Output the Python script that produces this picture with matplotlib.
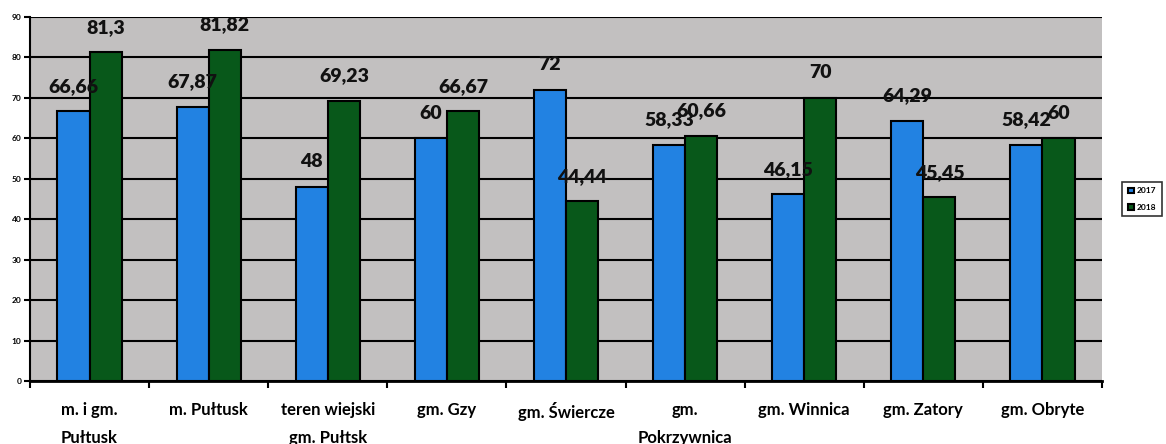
import matplotlib
matplotlib.use("Agg")
import matplotlib.pyplot as plt
import numpy as np

categories = ["m. i gm.\nPułtusk", "m. Pułtusk", "teren wiejski\ngm. Pułtsk", "gm. Gzy",
              "gm. Świercze", "gm.\nPokrzywnica", "gm. Winnica", "gm. Zatory", "gm. Obryte"]
values_2017 = [66.66, 67.87, 48, 60, 72, 58.33, 46.15, 64.29, 58.42]
values_2018 = [81.3, 81.82, 69.23, 66.67, 44.44, 60.66, 70, 45.45, 60]
series_names = ["2017", "2018"]
y_ticks = [0, 10, 20, 30, 40, 50, 60, 70, 80, 90]

plt.rcParams['font.family'] = ['Lato', 'DejaVu Sans']

fig = plt.figure(figsize=(11.66, 4.44), dpi=100)
ax = fig.add_axes([30/1166, 1-381/444, (1102-30)/1166, (381-17)/444])
ax.set_facecolor("#c2c0c0")

x = np.arange(len(categories))
w = 0.27
blue = "#2282e2"
green = "#08581a"
b1 = ax.bar(x - w/2, values_2017, w, color=blue, edgecolor="black", linewidth=1.5, zorder=3, label=series_names[0])
b2 = ax.bar(x + w/2, values_2018, w, color=green, edgecolor="black", linewidth=1.5, zorder=3, label=series_names[1])

def fmt(v):
    s = ("%.2f" % v).rstrip("0").rstrip(".")
    return s.replace(".", ",")

for bars, vals in ((b1, values_2017), (b2, values_2018)):
    for r, v in zip(bars, vals):
        ax.annotate(fmt(v), (r.get_x() + r.get_width()/2, v), xytext=(0, 18),
                    textcoords="offset points", ha="center", va="center",
                    fontsize=14, fontweight="heavy", color="#111111", zorder=5)

ax.set_xlim(-0.5, len(categories) - 0.5)
ax.set_ylim(0, 90)
ax.set_yticks(y_ticks)
ax.set_yticklabels([str(t) for t in y_ticks], fontsize=6, fontweight="bold")
ax.yaxis.grid(True, color="black", linewidth=1.5, zorder=1)
ax.set_axisbelow(True)

ax.set_xticks(np.arange(len(categories) + 1) - 0.5)
ax.set_xticklabels([])
ax.set_xticks(x, minor=True)
ax.set_xticklabels(categories, minor=True, fontsize=12, fontweight="bold", linespacing=1.9)
ax.tick_params(axis="x", which="minor", length=0, pad=15)
ax.tick_params(axis="x", which="major", length=5, width=1.5, direction="out")
ax.tick_params(axis="y", length=4, width=1.5, direction="out", pad=2)
for lbl in ax.get_xticklabels(minor=True):
    lbl.set_verticalalignment("top")

ax.spines["top"].set_visible(False)
ax.spines["right"].set_visible(False)
ax.spines["left"].set_linewidth(1.5)
ax.spines["bottom"].set_linewidth(2)

leg = ax.legend(loc="center left", bbox_to_anchor=(1.015, 0.5),
                prop={"weight": "bold", "size": 6}, frameon=True, fancybox=False,
                edgecolor="black", handlelength=0.7, handleheight=0.7,
                handletextpad=0.3, borderpad=0.7, labelspacing=1.1)
leg.get_frame().set_linewidth(1.2)

fig.savefig("out.png", dpi=100)
